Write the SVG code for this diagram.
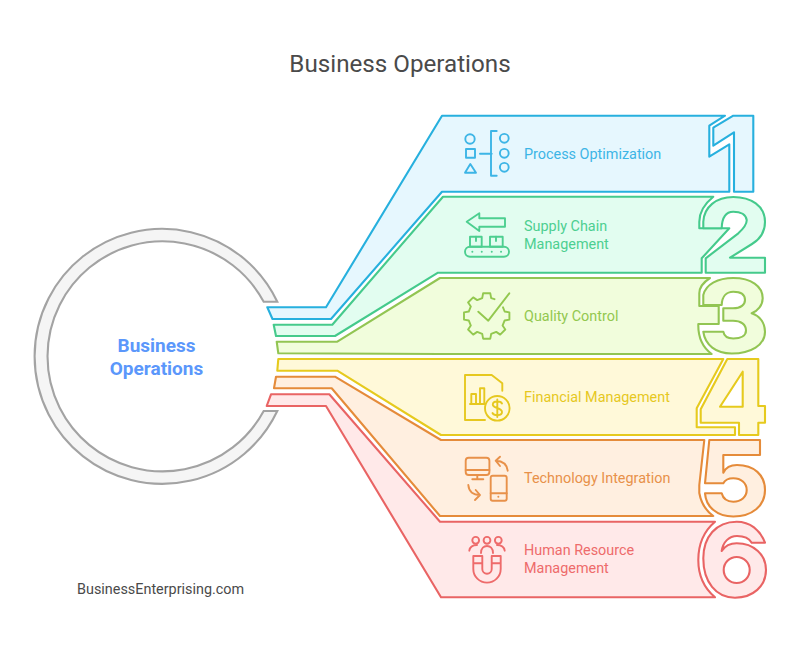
<svg xmlns="http://www.w3.org/2000/svg" width="800" height="661" viewBox="0 0 800 661">
<style>
text{font-family:Roboto,"Liberation Sans",sans-serif}
.s{stroke-width:2.1;stroke-linejoin:round;fill-rule:evenodd}
.i{fill:none;stroke-width:1.9;stroke-linecap:round;stroke-linejoin:round}
.l{font-size:14.4px}
.b1{fill:#e6f7fe;stroke:#27b0de}.b2{fill:#e2fdf0;stroke:#45ca8c}.b3{fill:#f1fddc;stroke:#92c553}.b4{fill:#fff9d9;stroke:#e6ca1e}.b5{fill:#ffefe0;stroke:#e58b3a}.b6{fill:#ffe9e9;stroke:#e96464}
.i1{stroke:#3db5e6}.i2{stroke:#4dcf90}.i3{stroke:#93c84f}.i4{stroke:#e6c81f}.i5{stroke:#e8914a}.i6{stroke:#ee6b6b}
</style>
<rect width="800" height="661" fill="#fff"/>
<text x="400" y="72" text-anchor="middle" font-size="24.2" fill="#4a4a4a">Business Operations</text>
<g id="hub">
<path d="M277.3,301.7A127.5,127.5 0 1 0 277.3,411H263.7A115,115 0 1 1 263.7,301.7Z" fill="#f5f5f5" stroke="#a3a3a3" stroke-width="2.1"/>
<text x="156.5" y="351.5" text-anchor="middle" font-size="19" font-weight="700" fill="#5b97fb">Business</text>
<text x="156.5" y="374.5" text-anchor="middle" font-size="19" font-weight="700" fill="#5b97fb">Operations</text>
</g>
<g id="connectors">
<path class="s b1" d="M267.3,307.3H326L442,115.7H725L709.3,125.7V156.7L729.3,144.3V191.7H442L331,319H272.5Z"/>
<path class="s b1" d="M733.3,115.7H753.3V191.7H734V132.3L713.3,145.7V127.7Z"/>
<path class="s b2" d="M273.7,324.7H332.3L443,196.7H713.3Q699.3,208 699.3,221.7V228.3H729.3L701.7,258.3V272.7H438L335,336H276Z"/>
<path class="s b2" d="M703.3,228.3V221.7C704,207 716,197 733.3,197C751,197 765,206 765,221.7C765,230 762,238 752,244L730,257.7H765V272.7H705.7V258.3L738.3,233.3C743,229 747,225 746.7,220C746,215 741,211.7 733.3,211.7C726,211.7 722,217 721.7,228.3Z"/>
<path class="s b3" d="M276.7,341.7H337.3L440,278H710Q699.3,285 699.3,293.3V306H718.7V324H698.3C698,337 702,347 711.7,354H440L278.3,353.3Z"/>
<path class="s b3" d="M703.3,305V295C706,284 718,278 733.3,278C751,278 762.7,286 762.7,298.3C762.7,305 758,311 751.7,313.3C760,316 765,323 765,331.7C765,345 751,353.5 731.7,353.5C716,353.5 705,345 703.3,331.7H723.3C724,336 727,338.5 733.3,338.5C741,338.5 746,335.5 746,330.5C746,324.5 741,320.7 733,320.7H723.3V308.3H733C741,308.3 745,304.5 745,300C745,295 741,291.7 733.3,291.7C727,291.7 722,296 721.7,305Z"/>
<path class="s b4" d="M278.3,359H723.3L696.7,408.3V427.3H735V435H441L337.3,370.7H277.3Z"/>
<path class="s b4" d="M727.3,359H758.3V406H765V422.7H758.3V435H739V422.7H700.7V409.3ZM742.7,371.7V406.7H720Z"/>
<path class="s b5" d="M276,376.7H335L441,440H704.3L699.3,485V493Q702,508 713.3,516H440L331.7,388.3H274Z"/>
<path class="s b5" d="M709.3,440H760V455H723.3V472.7C726,467 731,465 737,465C754,465 765,475 765,490C765,506 752,516.5 733.3,516.5C717,516.5 706,507 705,493.3H721.7C723,498.5 727,501.7 733.3,501.7C741,501.7 746.7,497 746.7,490C746.7,483 741,478.3 733.3,478.3C728,478.3 725,480 723.3,483.3H705Z"/>
<path class="s b6" d="M271,394.3H329.3L440,521.7H715C704,531 698.3,545 698.3,560C698.3,575 704,588 715,597.3H441L326,406H266.7Z"/>
<path class="s b6" d="M765,542.7C760,530 750,521.7 736.7,521.7C716,521.7 703.3,537 703.3,558.3C703.3,582 716,597.7 735,597.7C753,597.7 766,586 766,570C766,555 754,543.3 736.7,543.3C730,543.3 725,546 721.7,551C723,542 729,536 737,536C744,536 749,538 751.7,542.7ZM749.7,570A13,13 0 1 1 723.7,570A13,13 0 1 1 749.7,570Z"/>
</g>
<g id="node-1">
<g class="i i1"><circle cx="470" cy="139" r="4.7"/><rect x="466" y="149" width="9" height="8.7"/><path d="M465,172.7H476L470.3,164Z"/><path d="M480,153.7H491.7M496.7,131H491V175.7H496.7"/><circle cx="504.3" cy="138.3" r="4.4"/><circle cx="504.3" cy="153.3" r="4.4"/><circle cx="504.3" cy="167.3" r="4.4"/></g>
<text class="l" x="524" y="158.5" fill="#3db5e6">Process Optimization</text>
</g>
<g id="node-2">
<g class="i i2"><path d="M505,218.3H479.3V213.3L466.7,221.7L479.3,231V226.7H505Z"/><rect x="470" y="236.7" width="11.7" height="10"/><rect x="490" y="236.7" width="12.7" height="10"/><path d="M476,236.7V241M496,236.7V241"/><rect x="465" y="246.7" width="44" height="10" rx="5"/><path d="M472.3,251.7h.1M481.7,251.7h.1M491.7,251.7h.1M501,251.7h.1"/></g>
<text class="l" x="524" y="231" fill="#4dcf90">Supply Chain</text>
<text class="l" x="524" y="248.5" fill="#4dcf90">Management</text>
</g>
<g id="node-3">
<path class="i i3" transform="translate(486.7,316)" d="M16.3,-8.7L17.95,-4.48L22.7,-3.6V3.6L17.95,4.48L15.86,9.53L18.6,13.5L13.5,18.6L9.53,15.86L4.48,17.95L3.6,22.7H-3.6L-4.48,17.95L-9.53,15.86L-13.5,18.6L-18.6,13.5L-15.86,9.53L-17.95,4.48L-22.7,3.6V-3.6L-17.95,-4.48L-15.86,-9.53L-18.6,-13.5L-13.5,-18.6L-9.53,-15.86L-4.48,-17.95L-3.6,-22.7H3.6L4.48,-17.95L7.8,-16.8"/>
<path class="i i3" d="M478.3,311.7L488.3,320.7L509.3,293.3"/>
<text class="l" x="524" y="320.5" fill="#93c84f">Quality Control</text>
</g>
<g id="node-4">
<g class="i i4"><path d="M485,420H465V375H491.7L502.3,383.3V390.7"/><path d="M470,404H485M471.3,404V394H476V404M480,404V388.3H484.3V404"/><circle cx="497.3" cy="408.3" r="12.3"/><path d="M502,403.5C500.5,401 493,400.5 492.8,404.5C492.6,408.5 502,407.5 502,412C502,416 494,416 492.5,413M497.3,399.5V417"/></g>
<text class="l" x="524" y="402" fill="#e6c81f">Financial Management</text>
</g>
<g id="node-5">
<g class="i i5"><rect x="465.7" y="457.7" width="23.7" height="17.3" rx="3"/><path d="M465.7,470H489.4M477.3,475V479.3M472.3,479.3H483.3"/><rect x="490.7" y="475.7" width="16" height="25" rx="2"/><path d="M490.7,493.3H506.7M498.3,496.7h.1"/><path d="M507.7,470.7C507,464 503,461 495.7,460.7M500,456.7L495.7,460.7L500,466"/><path d="M468.3,485C469,492 473,495 480,495M475.7,490L480,495L475,500"/></g>
<text class="l" x="524" y="483" fill="#e8914a">Technology Integration</text>
</g>
<g id="node-6">
<g class="i i6"><circle cx="475.7" cy="540.3" r="3.4"/><circle cx="487" cy="540.3" r="3.4"/><circle cx="498.3" cy="540.3" r="3.4"/><path d="M469.3,550.7C470,546 474,545 477,545M504.7,550.7C504,546 500,545 497,545M481,553C481,548 484,546 487,546C490,546 493,548 493,553"/><path d="M473.3,556V569A13.7,13.7 0 0 0 500.7,569V556H491.7V569A4.7,4.7 0 0 1 482.3,569V556ZM473.3,563.3H482.3M491.7,563.3H500.7"/></g>
<text class="l" x="524" y="555" fill="#ee6b6b">Human Resource</text>
<text class="l" x="524" y="573" fill="#ee6b6b">Management</text>
</g>
<text x="77" y="593.5" font-size="14.4" fill="#4a4a4a">BusinessEnterprising.com</text>
</svg>
